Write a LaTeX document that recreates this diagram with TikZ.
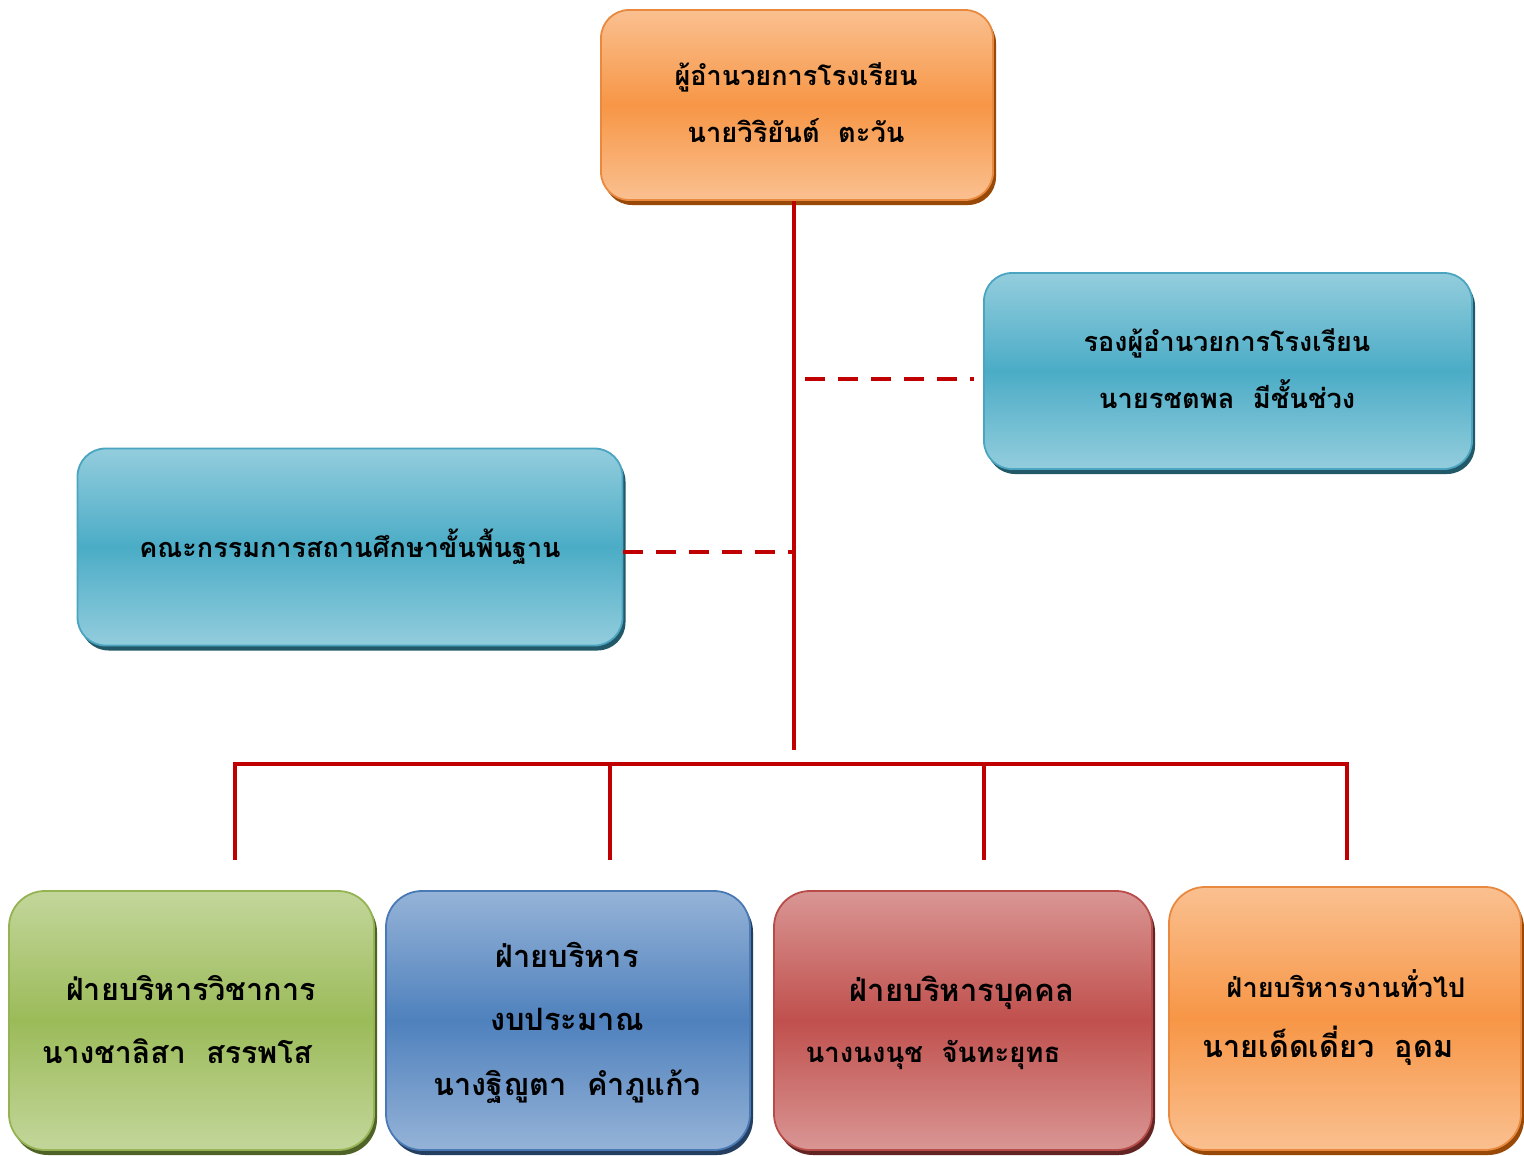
\documentclass[tikz,border=0pt]{standalone}
\usepackage{fontspec}
\newfontfamily\thaifont[Script=Thai]{Loma}
\usetikzlibrary{shadows}
\definecolor{lnred}{HTML}{C00000}
\definecolor{orL}{HTML}{FAC090}\definecolor{orM}{HTML}{F79646}\definecolor{orD}{HTML}{984807}\definecolor{orB}{HTML}{E8893F}
\definecolor{tlL}{HTML}{93CDDD}\definecolor{tlM}{HTML}{4BACC6}\definecolor{tlD}{HTML}{215968}\definecolor{tlB}{HTML}{4BA5C0}
\definecolor{grL}{HTML}{C3D69B}\definecolor{grM}{HTML}{9BBB59}\definecolor{grD}{HTML}{4F6228}\definecolor{grB}{HTML}{94B454}
\definecolor{blL}{HTML}{95B3D7}\definecolor{blM}{HTML}{4F81BD}\definecolor{blD}{HTML}{243F60}\definecolor{blB}{HTML}{4A7AB5}
\definecolor{rdL}{HTML}{D99694}\definecolor{rdM}{HTML}{C0504D}\definecolor{rdD}{HTML}{632523}\definecolor{rdB}{HTML}{B84C49}
\tikzset{
  box/.style n args={4}{draw=#4, line width=1.8pt, rounded corners=28pt, inner sep=0pt,
    top color=#1, bottom color=#1, middle color=#2,
    drop shadow={shadow xshift=3pt, shadow yshift=-5pt, fill=#3, opacity=1}},
  txt/.style={font=\thaifont\bfseries\fontsize{#1}{36}\selectfont, inner sep=0pt, anchor=base},
  txt/.default=30,
  solidln/.style={draw=lnred, line width=4.5pt},
  dashln/.style={draw=lnred, line width=4.5pt, dash pattern=on 20pt off 13pt},
}
\begin{document}
\begin{tikzpicture}[x=1pt,y=-1pt]
\useasboundingbox (0,0) rectangle (1524,1156);
\clip (0,0) rectangle (1524,1156);
% boxes
\node[box={orL}{orM}{orD}{orB}, minimum width=392pt, minimum height=190pt] (top) at (797,105) {};
\node[box={tlL}{tlM}{tlD}{tlB}, minimum width=488pt, minimum height=196pt] (vice) at (1228,371) {};
\node[box={tlL}{tlM}{tlD}{tlB}, minimum width=545pt, minimum height=197pt] (comm) at (350,547) {};
\node[box={grL}{grM}{grD}{grB}, minimum width=365pt, minimum height=259pt, rounded corners=36pt] (acad) at (191.5,1020.5) {};
\node[box={blL}{blM}{blD}{blB}, minimum width=364pt, minimum height=259pt, rounded corners=36pt] (budg) at (568,1020.5) {};
\node[box={rdL}{rdM}{rdD}{rdB}, minimum width=378pt, minimum height=259pt, rounded corners=36pt] (pers) at (963,1020.5) {};
\node[box={orL}{orM}{orD}{orB}, minimum width=352pt, minimum height=263pt, rounded corners=36pt] (genr) at (1345,1018.5) {};
% texts
\node[txt=27] (t1) at (796,85) {ผู้อำนวยการโรงเรียน};
\node[txt=27.3] (t2) at (796,142) {นายวิริยันต์~~ตะวัน};
\node[txt=27] (v1) at (1227,351) {รองผู้อำนวยการโรงเรียน};
\node[txt=27.3] (v2) at (1227,408) {นายรชตพล~~มีชั้นช่วง};
\node[txt=27] (c1) at (350,557) {คณะกรรมการสถานศึกษาขั้นพื้นฐาน};
\node[txt=30.6] (a1) at (191,1000) {ฝ่ายบริหารวิชาการ};
\node[txt=30.3] (a2) at (177,1063) {นางชาลิสา~~สรรพโส};
\node[txt=30.8] (b1) at (567,967) {ฝ่ายบริหาร};
\node[txt=30.8] (b2) at (567,1030) {งบประมาณ};
\node[txt=30.7] (b3) at (567,1095) {นางฐิญูตา~~คำภูแก้ว};
\node[txt=31] (p1) at (962,1001) {ฝ่ายบริหารบุคคล};
\node[txt=27.5] (p2) at (933,1062) {นางนงนุช~~จันทะยุทธ};
\node[txt=27.1] (g1) at (1346,997) {ฝ่ายบริหารงานทั่วไป};
\node[txt=30.6] (g2) at (1328,1057) {นายเด็ดเดี่ยว~~อุดม};
% connectors
\coordinate (trunkEnd) at (794,750);
\coordinate (busL) at (235,764);
\coordinate (busR) at (1347,764);
\coordinate (d1) at (235,860);
\coordinate (d2) at (610,860);
\coordinate (d3) at (984,860);
\coordinate (d4) at (1347,860);
\coordinate (u2) at (610,764);
\coordinate (u3) at (984,764);
\coordinate (jv) at (805,379);
\coordinate (jc) at (794,552);
\draw[solidln] (top.south -| trunkEnd) -- (trunkEnd);
\draw[solidln] ([xshift=-2.25pt]busL) -- ([xshift=2.25pt]busR);
\draw[solidln] (busL) -- (d1);
\draw[solidln] (u2) -- (d2);
\draw[solidln] (u3) -- (d3);
\draw[solidln] (busR) -- (d4);
\draw[dashln] (jv) -- ([xshift=-9pt]vice.west |- jv);
\draw[dashln] (comm.east |- jc) -- (jc);
\end{tikzpicture}
\end{document}
